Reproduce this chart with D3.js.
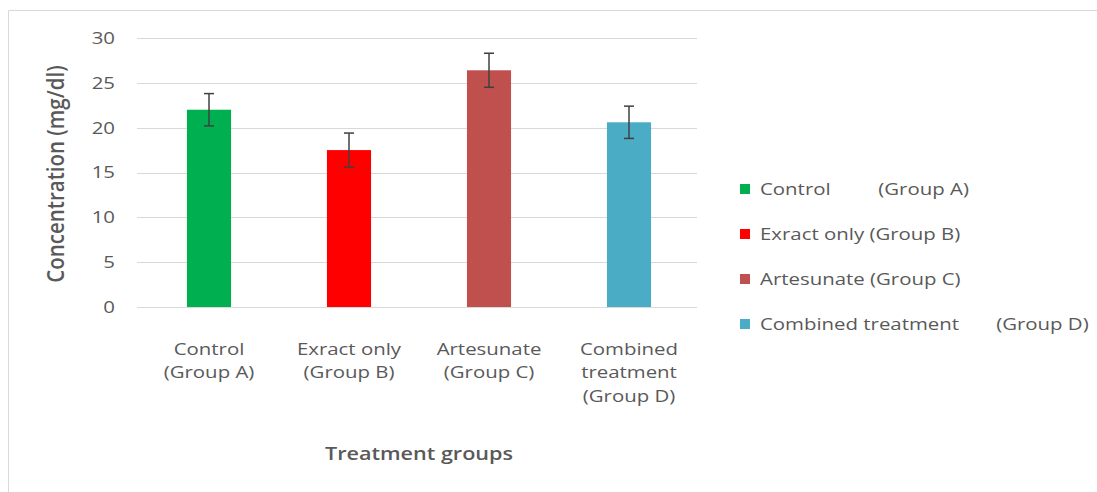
<!DOCTYPE html>
<meta charset="utf-8">
<script src="https://cdn.jsdelivr.net/npm/d3@7"></script>
<style>
body { margin: 0; background: #fff; }
text { font-family: "Open Sans", sans-serif; fill: #595959; }
.grid line { stroke: #d9d9d9; stroke-width: 1px; }
.legend text { white-space: pre; }
</style>
<body>
<script>

// values
var groups = ["A", "B", "C", "D"];
var tickLines = [["Control", "(Group A)"], ["Exract only", "(Group B)"], ["Artesunate", "(Group C)"], ["Combined", "treatment", "(Group D)"]];
var means = [22, 17.5, 26.4, 20.6];
var errs = [1.8, 1.9, 1.9, 1.8];
var colors = ["#00b050", "#ff0000", "#c0504d", "#4bacc6"];
var legendLabels = ["Control         (Group A)", "Exract only (Group B)", "Artesunate (Group C)", "Combined treatment       (Group D)"];
var yTicks = [0, 5, 10, 15, 20, 25, 30];

var width = 1097, height = 492;
var sx = 1.2; // the source picture is stretched sideways

function place(x, y) { return "translate(" + x + "," + y + ") scale(" + sx + ",1)"; }

var svg = d3.select("body").append("svg")
    .attr("width", width)
    .attr("height", height);

// chart frame
svg.append("path")
    .attr("d", "M1097,10.5H8.5V492")
    .attr("fill", "none")
    .attr("stroke", "#d9d9d9");

var x = d3.scaleBand()
    .domain(groups)
    .range([139, 699])
    .paddingInner(0.685)
    .paddingOuter(0.3425);

var y = d3.scaleLinear()
    .domain([0, 30])
    .range([307, 38]);

// gridlines
svg.append("g").attr("class", "grid")
  .selectAll("line")
  .data(yTicks)
  .enter().append("line")
    .attr("x1", 137).attr("x2", 697)
    .attr("y1", d => Math.round(y(d)) + 0.5)
    .attr("y2", d => Math.round(y(d)) + 0.5);

// y tick labels
svg.append("g")
  .selectAll("text")
  .data(yTicks)
  .enter().append("text")
    .attr("transform", d => place(115, y(d)))
    .attr("dy", "0.35em")
    .attr("text-anchor", "end")
    .style("font-size", "17px")
    .text(d => d);

// bars
svg.append("g")
  .selectAll("rect")
  .data(groups)
  .enter().append("rect")
    .attr("x", d => x(d))
    .attr("width", x.bandwidth())
    .attr("y", (d, i) => y(means[i]))
    .attr("height", (d, i) => y(0) - y(means[i]))
    .attr("fill", (d, i) => colors[i]);

// error bars
var eb = svg.append("g")
    .attr("stroke", "#404040")
    .attr("stroke-width", 1.5)
  .selectAll("g")
  .data(groups)
  .enter().append("g");
eb.append("line")
    .attr("x1", d => x(d) + x.bandwidth() / 2)
    .attr("x2", d => x(d) + x.bandwidth() / 2)
    .attr("y1", (d, i) => y(means[i] - errs[i]))
    .attr("y2", (d, i) => y(means[i] + errs[i]));
eb.selectAll(".cap")
  .data((d, i) => [means[i] - errs[i], means[i] + errs[i]].map(v => ({g: d, v: v})))
  .enter().append("line")
    .attr("class", "cap")
    .attr("x1", d => x(d.g) + x.bandwidth() / 2 - 5)
    .attr("x2", d => x(d.g) + x.bandwidth() / 2 + 5)
    .attr("y1", d => y(d.v))
    .attr("y2", d => y(d.v));

// category labels
svg.append("g")
  .selectAll("text")
  .data(groups)
  .enter().append("text")
    .attr("transform", d => place(x(d) + x.bandwidth() / 2, 355))
    .attr("text-anchor", "middle")
    .style("font-size", "17px")
  .each(function(d, i) {
    d3.select(this).selectAll("tspan")
      .data(tickLines[i])
      .enter().append("tspan")
        .attr("x", 0)
        .attr("y", (t, j) => j * 23.5)
        .text(t => t);
  });

// axis titles
svg.append("text")
    .attr("transform", "translate(64,174) rotate(-90) scale(1,1.15)")
    .attr("text-anchor", "middle")
    .style("font-size", "20.5px")
    .style("font-weight", "600")
    .text("Concentration (mg/dl)");

svg.append("text")
    .attr("transform", place(419, 460))
    .attr("text-anchor", "middle")
    .style("font-size", "18px")
    .style("font-weight", "600")
    .text("Treatment groups");

// legend
var legend = svg.append("g").attr("class", "legend")
  .selectAll("g")
  .data(legendLabels)
  .enter().append("g")
    .attr("transform", (d, i) => "translate(740," + (189 + i * 45) + ")");
legend.append("rect")
    .attr("x", 0).attr("y", -5)
    .attr("width", 10).attr("height", 10)
    .attr("fill", (d, i) => colors[i]);
legend.append("text")
    .attr("transform", place(20, 0))
    .attr("dy", "0.35em")
    .style("font-size", "17px")
    .text(d => d);

</script>
</body>
